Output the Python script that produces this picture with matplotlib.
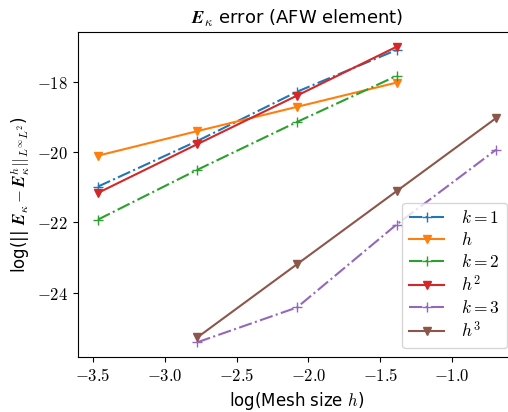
import numpy as np
import matplotlib
matplotlib.use("Agg")
import matplotlib.pyplot as plt
from matplotlib.ticker import FuncFormatter

plt.rcParams['mathtext.fontset'] = 'cm'
plt.rcParams['font.family'] = ['DejaVu Sans']

h_vals = [1/32, 1/16, 1/8, 1/4, 1/2]
x_low = np.log(h_vals[:4])
x_high = np.log(h_vals[1:])

err_k1 = [-20.98, -19.68, -18.28, -17.09]
ref_h = [-20.10, -19.40, -18.71, -18.02]
err_k2 = [-21.92, -20.50, -19.14, -17.83]
ref_h2 = [-21.16, -19.77, -18.39, -17.00]
err_k3 = [-25.41, -24.42, -22.06, -19.93]
ref_h3 = [-25.27, -23.19, -21.11, -19.03]

labels = [r'$k=1$', r'$h$', r'$k=2$', r'$h^2$', r'$k=3$', r'$h^3$']
colors = ['#1f77b4', '#ff7f0e', '#2ca02c', '#d62728', '#9467bd', '#8c564b']

fig = plt.figure(figsize=(5.08, 4.12), dpi=100)
ax = fig.add_axes([78/508, 55/412, 438/508, 325/412])

series = [(x_low, err_k1), (x_low, ref_h), (x_low, err_k2), (x_low, ref_h2),
          (x_high, err_k3), (x_high, ref_h3)]
for i, ((xs, ys), lab, c) in enumerate(zip(series, labels, colors)):
    if i % 2 == 0:
        ax.plot(xs, ys, '-.', marker='+', color=c, label=lab, lw=1.5, ms=7)
    else:
        ax.plot(xs, ys, '-', marker='v', color=c, label=lab, lw=1.5, ms=6)

fmt = FuncFormatter(lambda v, p: f'${v:.1f}$')
fmty = FuncFormatter(lambda v, p: f'${v:.0f}$')
ax.xaxis.set_major_formatter(fmt)
ax.yaxis.set_major_formatter(fmty)
ax.set_xticks([-3.5, -3.0, -2.5, -2.0, -1.5, -1.0])
ax.set_yticks([-24, -22, -20, -18])
ax.tick_params(labelsize=12)

ax.set_title(r'$\mathbfit{E}_\kappa$ error (AFW element)', fontsize=13)
ax.set_xlabel(r'log(Mesh size $h$)', fontsize=12)
ax.set_ylabel(r'log(|| $\mathbfit{E}_\kappa - \mathbfit{E}^h_\kappa||_{L^\infty L^2}$)', fontsize=12)

ax.legend(loc='lower right', bbox_to_anchor=(507/508, 64/412), bbox_transform=fig.transFigure,
          fontsize=12.5, handlelength=2.0, borderaxespad=0, labelspacing=0.22,
          borderpad=0.4, handletextpad=1.0)

fig.savefig('out.png', dpi=100)
